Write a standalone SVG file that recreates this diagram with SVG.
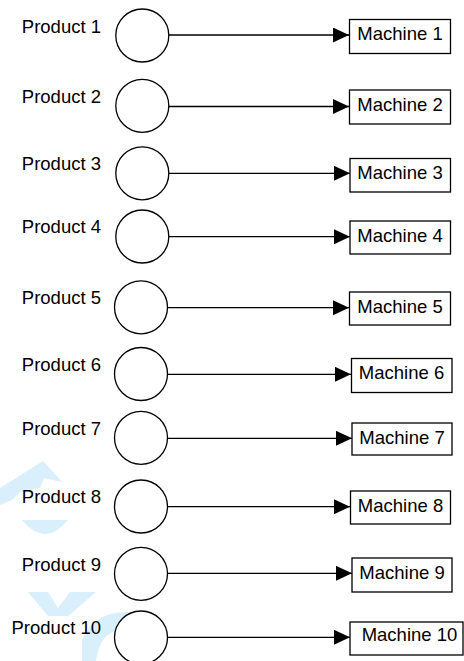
<svg xmlns="http://www.w3.org/2000/svg" width="464" height="661" viewBox="0 0 464 661">
<style>
.c{fill:#fff;stroke:#000;stroke-width:1.3}
.b{fill:#fff;stroke:#000;stroke-width:1.3}
.e{stroke:#000;stroke-width:1.3;fill:none}
.t{font-family:"Liberation Sans",Arial,sans-serif;font-size:18.5px;fill:#000}
.p{text-anchor:end}
.m{text-anchor:middle}
.w{fill:#d9effb}
</style>
<defs>
<marker id="ah" markerUnits="userSpaceOnUse" markerWidth="17" markerHeight="16" refX="16" refY="7.5" orient="auto">
<path d="M0,0 L16,7.5 L0,15 z" fill="#000"/>
</marker>
</defs>
<rect width="464" height="661" fill="#fff"/>
<g id="watermark">
<polygon class="w" points="0,488 43,461 62,482 44,478 40,488 20,492 12,500 0,505"/>
<path class="w" d="M22,520 Q45,548 68,520 Z"/>
<path class="w" d="M28,592 L48,592 L58,608 L70,592 L96,592 L68,616 L48,616 Z"/>
<path class="w" d="M82,640 Q95,610 130,612 L120,630 Q100,632 96,661 L82,661 Z"/>
</g>
<g id="connectors">
<line class="e" x1="168.5" y1="35" x2="349" y2="35" marker-end="url(#ah)"/>
<line class="e" x1="168.5" y1="106.5" x2="349" y2="106.5" marker-end="url(#ah)"/>
<line class="e" x1="168.5" y1="173.3" x2="350" y2="173.3" marker-end="url(#ah)"/>
<line class="e" x1="168.5" y1="236.7" x2="350" y2="236.7" marker-end="url(#ah)"/>
<line class="e" x1="167.5" y1="307.7" x2="349" y2="307.7" marker-end="url(#ah)"/>
<line class="e" x1="167.5" y1="374.3" x2="351" y2="374.3" marker-end="url(#ah)"/>
<line class="e" x1="167.5" y1="438.3" x2="352" y2="438.3" marker-end="url(#ah)"/>
<line class="e" x1="167.5" y1="506.7" x2="350" y2="506.7" marker-end="url(#ah)"/>
<line class="e" x1="167.5" y1="573.3" x2="352" y2="573.3" marker-end="url(#ah)"/>
<line class="e" x1="167.5" y1="637.3" x2="350" y2="637.3" marker-end="url(#ah)"/>
</g>
<g id="product1"><circle class="c" cx="142.3" cy="35.5" r="26.5"/><text class="t p" x="101" y="33.3">Product 1</text></g>
<g id="product2"><circle class="c" cx="142.3" cy="105.8" r="26.5"/><text class="t p" x="101" y="102.7">Product 2</text></g>
<g id="product3"><circle class="c" cx="142.3" cy="173.3" r="26.5"/><text class="t p" x="101" y="170">Product 3</text></g>
<g id="product4"><circle class="c" cx="142.3" cy="236.5" r="26.5"/><text class="t p" x="101" y="233.3">Product 4</text></g>
<g id="product5"><circle class="c" cx="141" cy="307.3" r="26.5"/><text class="t p" x="101" y="304">Product 5</text></g>
<g id="product6"><circle class="c" cx="141" cy="374" r="26.5"/><text class="t p" x="101" y="370.7">Product 6</text></g>
<g id="product7"><circle class="c" cx="141" cy="437.8" r="26.5"/><text class="t p" x="101" y="435">Product 7</text></g>
<g id="product8"><circle class="c" cx="141" cy="506.5" r="26.5"/><text class="t p" x="101" y="502.7">Product 8</text></g>
<g id="product9"><circle class="c" cx="141" cy="573.8" r="26.5"/><text class="t p" x="101" y="571">Product 9</text></g>
<g id="product10"><circle class="c" cx="141" cy="637.5" r="26.5"/><text class="t p" x="101" y="634">Product 10</text></g>
<g id="machine1"><rect class="b" x="349.5" y="19.5" width="101" height="34"/><text class="t m" x="400" y="40">Machine 1</text></g>
<g id="machine2"><rect class="b" x="349.5" y="90" width="101" height="34"/><text class="t m" x="400" y="110.7">Machine 2</text></g>
<g id="machine3"><rect class="b" x="350" y="158.5" width="100.5" height="33.5"/><text class="t m" x="400" y="179">Machine 3</text></g>
<g id="machine4"><rect class="b" x="350" y="221" width="100.5" height="33"/><text class="t m" x="400" y="241.5">Machine 4</text></g>
<g id="machine5"><rect class="b" x="349.5" y="292" width="101" height="33"/><text class="t m" x="400" y="312.5">Machine 5</text></g>
<g id="machine6"><rect class="b" x="351.5" y="358.5" width="100.5" height="34"/><text class="t m" x="401.5" y="379">Machine 6</text></g>
<g id="machine7"><rect class="b" x="352" y="423" width="100" height="32"/><text class="t m" x="402" y="443.5">Machine 7</text></g>
<g id="machine8"><rect class="b" x="350.5" y="491" width="100" height="33"/><text class="t m" x="400.5" y="511.5">Machine 8</text></g>
<g id="machine9"><rect class="b" x="352" y="558" width="100" height="34"/><text class="t m" x="402" y="578.5">Machine 9</text></g>
<g id="machine10"><rect class="b" x="350" y="622" width="113" height="33"/><text class="t m" x="409.5" y="641">Machine 10</text></g>
</svg>
